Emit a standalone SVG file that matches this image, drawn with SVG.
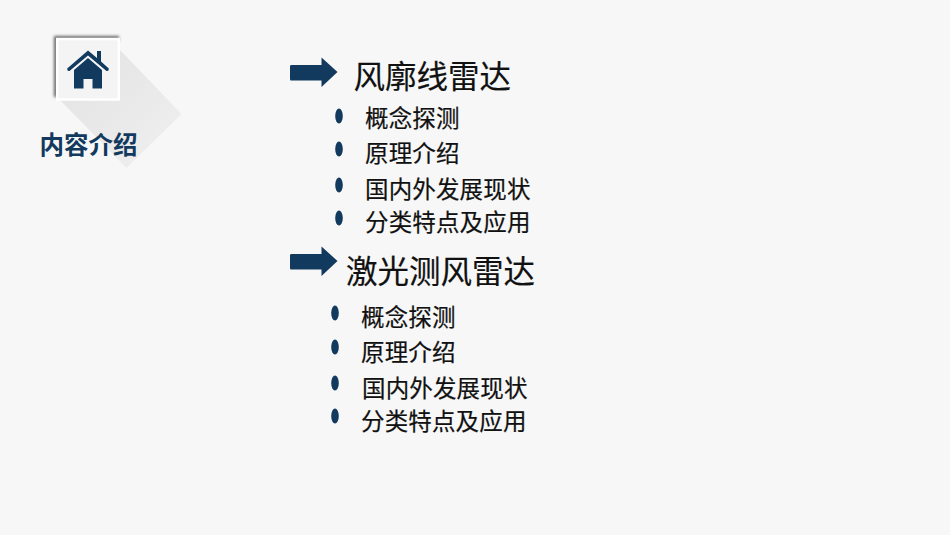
<svg xmlns="http://www.w3.org/2000/svg" width="950" height="535" viewBox="0 0 950 535">
<style>
text{font-family:"Liberation Sans","Noto Sans CJK SC",sans-serif;fill:#111;}
.h{font-size:31.5px;stroke:#111;stroke-width:.2px;}
.s{font-size:23.5px;letter-spacing:.15px;stroke:#111;stroke-width:.2px;}
.d{fill:#123a5e;}
</style>
<defs>
<linearGradient id="g" x1="0" y1="0" x2="1" y2="1"><stop offset="0" stop-color="#e2e2e2"/><stop offset="1" stop-color="#f0f0f0"/></linearGradient>
<filter id="b" x="-20%" y="-20%" width="140%" height="140%"><feGaussianBlur stdDeviation="1.500"/></filter>
<path id="arrow" class="d" d="M291 65H321.500V57.500L337.500 72L321.500 87V80.500H291Q290 80.500 290 79V66.500Q290 65 291 65Z"/>
<ellipse id="dot" class="d" cx="0" cy="0" rx="3.800" ry="7.500"/>
</defs>
<rect width="950" height="535" fill="#f7f7f7"/>
<g id="badge">
<polygon points="120,50 181.500,114 126.500,168 60,100" fill="url(#g)"/>
<path d="M54 36H119V41H58V97H54Z" fill="#666" filter="url(#b)"/>
<rect x="57.200" y="39" width="61.600" height="60.500" fill="#f4f4f4" stroke="#fff" stroke-width="2.500"/>
<path class="d" d="M88 50.500L97 58V51H101V61.500L108.800 68.500Q109 71.500 106.500 71L88 55.500L69.500 71Q67 71.500 67.200 68.500Z"/>
<path class="d" d="M88 58L102 70V88.500H92.500V79H83.500V88.500H74V70Z"/>
<text x="39.500" y="154" style="font-size:24.500px;font-weight:700;fill:#123a5e">内容介绍</text>
</g>
<g id="section1">
<use href="#arrow"/>
<text class="h" x="353.500" y="87.500">风廓线雷达</text>
<use href="#dot" x="339" y="116"/><text class="s" x="365" y="127">概念探测</text>
<use href="#dot" x="339" y="149"/><text class="s" x="365" y="162">原理介绍</text>
<use href="#dot" x="339" y="185"/><text class="s" x="365" y="198">国内外发展现状</text>
<use href="#dot" x="339" y="218"/><text class="s" x="365" y="231">分类特点及应用</text>
</g>
<g id="section2">
<use href="#arrow" y="189"/>
<text class="h" x="346" y="282.500">激光测风雷达</text>
<use href="#dot" x="335" y="313"/><text class="s" x="361" y="325.500">概念探测</text>
<use href="#dot" x="335" y="347"/><text class="s" x="361" y="360.500">原理介绍</text>
<use href="#dot" x="335" y="383"/><text class="s" x="362" y="396.500">国内外发展现状</text>
<use href="#dot" x="335" y="416"/><text class="s" x="361" y="429.500">分类特点及应用</text>
</g>
</svg>
